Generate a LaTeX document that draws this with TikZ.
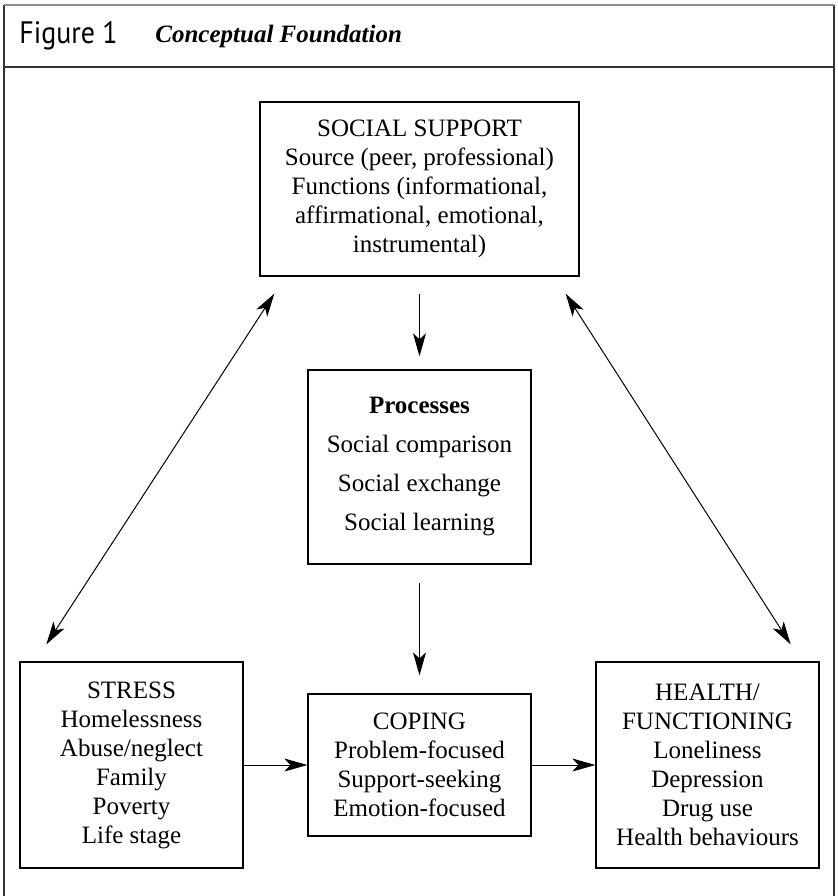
\documentclass[tikz,border=0pt]{standalone}
\usepackage{fontspec}
\setmainfont{Liberation Serif}
\newfontfamily\headsans[FakeStretch=0.9]{PT Sans}
\usetikzlibrary{arrows.meta,positioning,calc}
\tikzset{
  box/.style={draw,line width=0.65pt,align=center,inner sep=0pt,font=\fontsize{12.5}{14.5}\selectfont},
  arr/.style={-{Stealth[length=11.5pt,width=6.5pt,inset=3pt]},line width=0.5pt},
  darr/.style={{Stealth[length=11.5pt,width=6.5pt,inset=3pt]}-{Stealth[length=11.5pt,width=6.5pt,inset=3pt]},line width=0.5pt},
  frame/.style={line width=0.6pt,black!80},
}

\begin{document}
\begin{tikzpicture}[x=0.5pt,y=-0.5pt]
\useasboundingbox (0,0) rectangle (838,896);
% outer frame and title row
\draw[frame] (4,896) -- (4,5);
\draw[frame] (834,5) -- (834,896);
\draw[line width=0.6pt,black!45] (4,5) -- (834,5);
\draw[frame] (4,67) -- (834,67);
\node[anchor=west,inner sep=0pt,font=\headsans\fontsize{15.5}{17}\selectfont] (fig) at (19,36) {Figure 1};
\node[anchor=west,inner sep=0pt,font=\bfseries\itshape\fontsize{12.5}{15}\selectfont] (title) at (155,36) {Conceptual Foundation};
% boxes
\node[box,minimum width=159.5pt,minimum height=87pt] (ss) at (419.5,189) {SOCIAL SUPPORT\\Source (peer, professional)\\Functions (informational,\\affirmational, emotional,\\instrumental)};
\node[box,minimum width=111.5pt,minimum height=97pt,font=\fontsize{12.5}{19.5}\selectfont] (proc) at (419.5,467) {\textbf{Processes}\\Social comparison\\Social exchange\\Social learning};
\node[box,minimum width=111.5pt,minimum height=71pt] (coping) at (419.5,765) {COPING\\Problem-focused\\Support-seeking\\Emotion-focused};
\node[box,minimum width=111.5pt,minimum height=103pt] (stress) at (131.5,765) {STRESS\\Homelessness\\Abuse/neglect\\Family\\Poverty\\Life stage};
\node[box,minimum width=111.5pt,minimum height=103pt] (health) at (707.5,765) {HEALTH/\\FUNCTIONING\\Loneliness\\Depression\\Drug use\\Health behaviours};
% connectors
\draw[arr,shorten <=8.5pt,shorten >=6.5pt] (ss) -- (proc);
\draw[arr,shorten <=9pt,shorten >=9pt] (proc) -- (coping);
\draw[arr] (stress) -- (coping);
\draw[arr] (coping) -- (health);
\draw[darr] ($(ss.south west)+(15,17)$) -- ($(stress.north west)+(27,-17)$);
\draw[darr] ($(ss.south east)+(-14,17)$) -- ($(health.north east)+(-29,-17)$);
\end{tikzpicture}
\end{document}
